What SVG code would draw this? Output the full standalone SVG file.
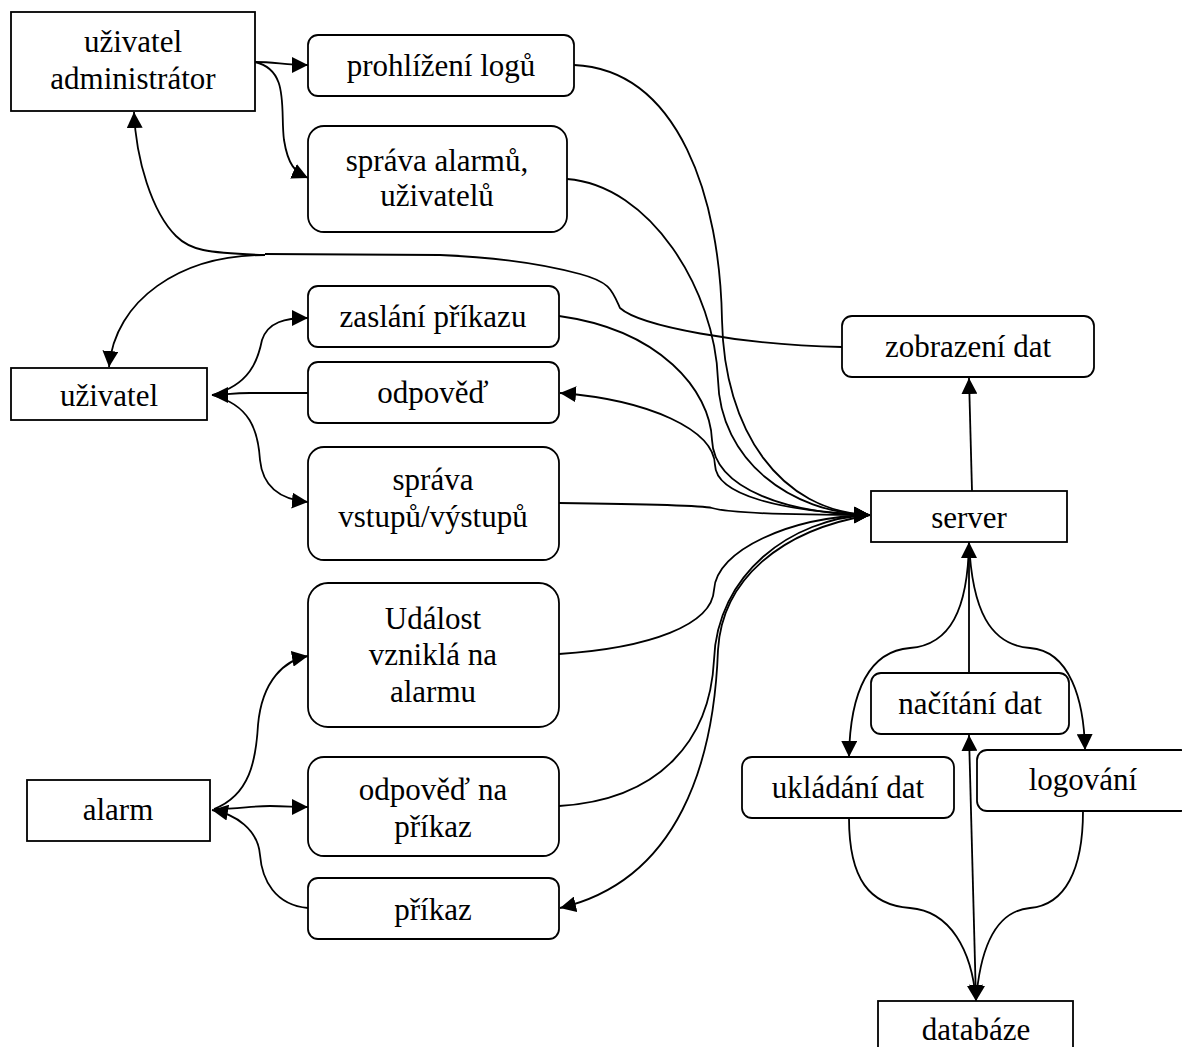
<svg xmlns="http://www.w3.org/2000/svg" width="1182" height="1047" viewBox="0 0 1182 1047">
  <style>
    .box { fill: #fff; stroke: #000; stroke-width: 1.8; }
    .lbl { font-family: 'Liberation Serif', 'Times New Roman', 'DejaVu Serif', serif; font-size: 31px; fill: #000; text-anchor: middle; }
    .wire { fill: none; stroke: #000; stroke-width: 1.8; }
    .arr { marker-end: url(#head); }
  </style>
  <defs>
    <marker id="head" markerUnits="userSpaceOnUse" markerWidth="18" markerHeight="16" refX="16" refY="8" orient="auto">
      <path d="M0,0 L16,8 L0,16 z" fill="#000"/>
    </marker>
  </defs>

  <rect width="1182" height="1047" fill="#fff"/>

  <!-- connectors -->
  <g id="connectors">
    <!-- administrator to its functions -->
    <path class="wire arr" d="M255,62 C 275,62 285,65 308,65"/>
    <path class="wire arr" d="M255,62 C 290,70 280,110 284,140 C 288,165 295,172 308,178"/>

    <!-- data display back to both users -->
    <path class="wire" d="M842,347 C 740,345 640,326 620,308 C 612,290 610,282 580,274 C 540,263 490,257 440,255 L 265,254"/>
    <path class="wire arr" d="M265,255 C 205,253 190,250 176,236 C 152,212 136,160 134,112"/>
    <path class="wire arr" d="M265,255 C 180,255 115,300 109,367"/>

    <!-- user to its functions -->
    <path class="wire arr" d="M212,395 C 250,385 258,360 262,340 C 268,322 285,318 308,318"/>
    <path class="wire arr" d="M309,393 L 250,393 C 232,393 224,395 212,395"/>
    <path class="wire arr" d="M212,395 C 250,405 258,430 260,460 C 263,490 285,500 308,502"/>

    <!-- alarm to its functions -->
    <path class="wire arr" d="M214,809 C 250,795 256,760 258,725 C 262,680 285,660 308,656"/>
    <path class="wire arr" d="M214,809 C 240,809 250,806 270,806 C 285,806 295,807 308,807"/>
    <path class="wire arr" d="M308,908 C 275,905 262,880 260,855 C 258,830 236,814 212,810"/>

    <!-- functions to server -->
    <path class="wire arr" d="M574,65 C 680,70 720,200 722,320 C 724,430 780,512 870,515"/>
    <path class="wire arr" d="M567,179 C 650,185 715,290 718,380 C 720,460 790,513 870,515"/>
    <path class="wire arr" d="M559,316 C 660,330 710,390 712,440 C 714,490 790,514 870,515"/>
    <path class="wire arr" d="M870,515 C 780,511 716,495 715,465 C 714,430 650,400 560,393"/>
    <path class="wire arr" d="M559,503 C 640,504 700,505 712,508 C 725,512 780,515 870,515"/>
    <path class="wire arr" d="M559,654 C 650,648 712,625 714,590 C 716,550 790,517 870,515"/>
    <path class="wire arr" d="M559,806 C 660,800 710,740 714,660 C 717,575 790,518 870,515"/>
    <path class="wire arr" d="M870,515 C 780,530 722,580 718,650 C 714,760 680,880 560,908"/>

    <!-- server and data stores -->
    <path class="wire arr" d="M972,491 L 969,378"/>
    <path class="wire arr" d="M969,673 L 969,542"/>
    <path class="wire arr" d="M969,542 C 968,610 950,645 910,648 C 870,651 850,690 849,757"/>
    <path class="wire arr" d="M969,542 C 972,610 990,645 1030,648 C 1070,651 1084,700 1085,750"/>
    <path class="wire arr" d="M976,1001 L 969,735"/>
    <path class="wire arr" d="M849,818 C 849,880 870,905 910,908 C 950,911 972,950 976,1001"/>
    <path class="wire arr" d="M1083,811 C 1083,870 1065,905 1030,908 C 995,911 980,950 976,1001"/>
  </g>

  <!-- nodes -->
  <g id="admin">
    <rect class="box" x="11" y="12" width="244" height="99"/>
    <text class="lbl" x="133" y="52">uživatel</text>
    <text class="lbl" x="133" y="89">administrátor</text>
  </g>
  <g id="prohlizeni-logu">
    <rect class="box" x="308" y="35" width="266" height="61" rx="10"/>
    <text class="lbl" x="441" y="76">prohlížení logů</text>
  </g>
  <g id="sprava-alarmu">
    <rect class="box" x="308" y="126" width="259" height="106" rx="16"/>
    <text class="lbl" x="437" y="171">správa alarmů,</text>
    <text class="lbl" x="437" y="206">uživatelů</text>
  </g>
  <g id="uzivatel">
    <rect class="box" x="11" y="368" width="196" height="52"/>
    <text class="lbl" x="109" y="406">uživatel</text>
  </g>
  <g id="zaslani-prikazu">
    <rect class="box" x="308" y="286" width="251" height="61" rx="10"/>
    <text class="lbl" x="433" y="327">zaslání příkazu</text>
  </g>
  <g id="odpoved">
    <rect class="box" x="308" y="362" width="251" height="61" rx="10"/>
    <text class="lbl" x="433" y="403">odpověď</text>
  </g>
  <g id="sprava-vstupu">
    <rect class="box" x="308" y="447" width="251" height="113" rx="16"/>
    <text class="lbl" x="433" y="490">správa</text>
    <text class="lbl" x="433" y="527">vstupů/výstupů</text>
  </g>
  <g id="udalost">
    <rect class="box" x="308" y="583" width="251" height="144" rx="20"/>
    <text class="lbl" x="433" y="629">Událost</text>
    <text class="lbl" x="433" y="665">vzniklá na</text>
    <text class="lbl" x="433" y="702">alarmu</text>
  </g>
  <g id="odpoved-na-prikaz">
    <rect class="box" x="308" y="757" width="251" height="99" rx="16"/>
    <text class="lbl" x="433" y="800">odpověď na</text>
    <text class="lbl" x="433" y="837">příkaz</text>
  </g>
  <g id="prikaz">
    <rect class="box" x="308" y="878" width="251" height="61" rx="10"/>
    <text class="lbl" x="433" y="920">příkaz</text>
  </g>
  <g id="alarm">
    <rect class="box" x="27" y="780" width="183" height="61"/>
    <text class="lbl" x="118" y="820">alarm</text>
  </g>
  <g id="zobrazeni-dat">
    <rect class="box" x="842" y="316" width="252" height="61" rx="10"/>
    <text class="lbl" x="968" y="357">zobrazení dat</text>
  </g>
  <g id="server">
    <rect class="box" x="871" y="491" width="196" height="51"/>
    <text class="lbl" x="969" y="528">server</text>
  </g>
  <g id="nacitani-dat">
    <rect class="box" x="871" y="673" width="198" height="61" rx="10"/>
    <text class="lbl" x="970" y="714">načítání dat</text>
  </g>
  <g id="ukladani-dat">
    <rect class="box" x="742" y="757" width="212" height="61" rx="10"/>
    <text class="lbl" x="848" y="798">ukládání dat</text>
  </g>
  <g id="logovani">
    <rect class="box" x="977" y="750" width="214" height="61" rx="10"/>
    <text class="lbl" x="1083" y="790">logování</text>
  </g>
  <g id="databaze">
    <rect class="box" x="878" y="1001" width="195" height="60"/>
    <text class="lbl" x="976" y="1040">databáze</text>
  </g>
</svg>
